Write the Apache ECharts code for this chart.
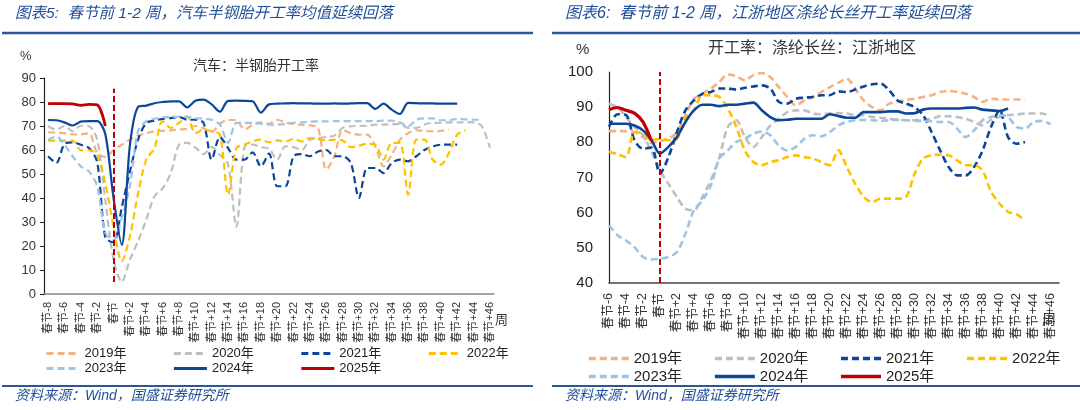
<!DOCTYPE html>
<html>
<head>
<meta charset="utf-8">
<script src="https://cdn.jsdelivr.net/npm/echarts@6/dist/echarts.min.js"></script>
<style>
  html, body { margin: 0; padding: 0; background: #fff; }
  #wrap { position: relative; width: 1080px; height: 410px; }
  .panel { position: absolute; top: 0; width: 540px; height: 410px; }
</style>
</head>
<body>
<div id="wrap">
  <div class="panel" id="left" style="left:0"></div>
  <div class="panel" id="right" style="left:540px"></div>
</div>
<script>
const FONT = '"Liberation Sans", "Noto Sans CJK SC", sans-serif';
const BLUE_TXT = '#1F4E99';

// week offsets relative to Spring Festival
const leftWeeks = [];
for (let w = -8; w <= 46; w++) leftWeeks.push(w);
const rightWeeks = [];
for (let w = -6; w <= 47; w++) rightWeeks.push(w);
const weekLabel = w => w === 0 ? '春节' : (w < 0 ? '春节' + w : '春节+' + w);

// 图表5: 汽车半钢胎开工率 (%), starting at 春节-8
const tyre2019 = [67.4, 67.2, 67, 66.5, 66.5, 67, 58.8, 57.1,
  60, 62.2, 64.3, 66, 67, 67.8, 68, 68.2, 68.5, 68.8,
  70, 69, 67.5, 71, 72.5, 72.5, 68.5, 70.5, 71.5, 71,
  72.6, 71.5, 70.8, 70.5, 70.3, 69.2, 51.8, 57.4, 68.5, 67,
  66.4, 66.4, 61.5, 53.2, 58, 64.3, 67, 68.2, 68, 67.8, 68, 68.5];
const tyre2020 = [69.9, 68.5, 70, 67.8, 70.1, 69.9, 64.3, 39,
  14.3, 5, 14.3, 22, 31, 40.7, 44, 50.4, 62.2, 63,
  61, 58.3, 61.2, 58, 54, 28, 61.2, 62.2, 61.2, 60.5,
  56, 61.5, 61.2, 60, 64.3, 65, 65.4, 66, 69.2, 69.9,
  70, 70, 70.6, 70.6, 70.8, 70.8, 69.2, 69.2, 70.6, 71.3, 71.3, 71.5, 71.5, 71.6, 71.5, 70, 61];
const tyre2021 = [57.4, 54.6, 62.5, 63.2, 62.2, 60.8, 55, 23.5,
  21.5, 36, 51, 64.3, 71.3, 72.2, 73, 73.3, 73.8, 72.6,
  72.6, 71.3, 56, 65.4, 60.8, 56, 56, 59, 53.2, 58.5,
  44.9, 44.9, 57.4, 58.3, 57.4, 59.4, 60, 57.4, 57.4, 54.6,
  40, 52.5, 52.5, 50.4, 54.6, 56, 55.3, 57.4, 60, 61.5, 62.2, 62.2, 62.2];
const tyre2022 = [63.9, 63.9, 63.9, 63.9, 59.9, 59.9, 58, 46,
  28, 13.6, 24, 42, 56, 60.8, 72, 69.2, 71.3, 74,
  67, 68.5, 67.8, 66.4, 41.4, 60.8, 62.2, 63.6, 64.3, 63.2,
  64, 63.6, 64.6, 63.6, 65, 64.6, 64, 64.3, 64, 61.2,
  61.8, 62.6, 62.2, 56, 63, 63, 41.4, 64.3, 64.3, 56, 53.9, 58.8, 66.4, 68.2];
const tyre2023 = [64.3, 65.7, 62.2, 57.4, 53.2, 51.1, 44.9, 25.4,
  22.6, 31.7, 45, 68, 72, 73, 73.6, 73.8, 73.8, 73.8,
  73.3, 73.1, 72.6, 70.6, 63, 71.3, 71.3, 71.3, 71, 70.6,
  70.6, 70.8, 71.3, 71.5, 71.8, 71.9, 71.9, 72, 72, 72,
  72, 72, 72, 72.2, 72.2, 71.5, 69.9, 72.6, 73.2, 73.2, 72.4, 72.4, 73, 72.8, 72.6, 72.6];
const tyre2024 = [72.5, 72.4, 71.5, 70.2, 71.8, 72, 72, 66.5,
  40, 20.5, 62, 78, 78.5, 79.5, 80, 80.3, 80.3, 77.8,
  80.5, 81, 79, 76, 80.5, 80.6, 80.5, 80.3, 75.6, 79,
  79.3, 79.4, 79.5, 79.4, 79.4, 79.3, 79.3, 79.4, 79.3, 79.4,
  79.5, 79.5, 77.1, 79.3, 76.8, 75, 79.6, 79.5, 79.4, 79.4, 79.3, 79.3, 79.3];
const tyre2025 = [79.3, 79.3, 79.3, 79.2, 78.6, 79.0, 78.8, 70];

// 图表6: 江浙地区涤纶长丝开工率 (%), starting at 春节-6
const yarn2019 = [83.2, 83.2, 83.2, 82.9, 81.5, 79.8,
  80.4, 81, 82.9, 87.7, 92.4, 93.8, 95.3, 97.2, 99.3, 98.8,
  97.6, 99.1, 99.7, 98.6, 95.7, 92.9, 90.5, 91.9, 92.9, 94.3,
  95.7, 96.9, 98.1, 95.3, 91.9, 90, 89.1, 91, 91.5, 92.1,
  92.4, 92.9, 93.4, 94.3, 94.6, 94.3, 93.8, 92.9, 91.5, 92.4, 92.2, 92.2, 92.2, 92.2];
const yarn2020 = [91, 90, 87.2, 84.4, 82, 77.3,
  72, 68.2, 64.5, 61.1, 60.7, 64.5, 69.2, 75.8, 84.4, 86.3,
  81.5, 78.7, 81.5, 84.8, 86.7, 88.6, 89.1, 89.1, 88.2, 88,
  88.2, 88.3, 88.2, 87.7, 87.7, 87.2, 87, 86.7, 86.4, 86.3,
  86.3, 86.4, 86.7, 87.4, 87.4, 87.2, 86.7, 85.8, 84.8, 86.4, 87.2, 87.7, 87.9, 88.2, 88.2, 88.2, 87.4];
const yarn2021 = [84.4, 88, 87.8, 80.6, 78.2, 78.5,
  71.1, 75.8, 82.9, 89.1, 91.9, 93.8, 94.3, 95.3, 95.3, 95,
  95.5, 95.9, 96.2, 95.3, 91.5, 91, 92.4, 92.7, 92.9, 93.4,
  93.4, 94.5, 94.3, 95, 95.9, 96.5, 96.7, 94.8, 91.9, 91,
  90, 87.7, 82.9, 77.7, 73, 70.6, 70.6, 73, 77.7, 84.4, 89.1, 81.5, 79.6, 80.1];
const yarn2022 = [77.3, 76.6, 75.8, 82.9, 82.5, 80.6,
  81, 80.6, 81, 86.7, 89.1, 93.4, 93.4, 92.9, 89.6, 84.4,
  77.7, 74.4, 73.5, 74.4, 74.9, 75.8, 76.3, 75.8, 75.4, 74.4,
  73.5, 77.7, 73, 68.2, 64.5, 63, 64, 64, 64, 64.5,
  71.1, 75.4, 76.3, 76.5, 76.3, 74.9, 73.5, 73.5, 72, 65.9, 62.6, 60.2, 59.5, 57.8];
const yarn2023 = [56.4, 53.6, 52.1, 50.2, 47.4, 46.7,
  46.9, 47.4, 48.8, 54, 60.7, 63.5, 67.8, 75.4, 77.7, 80.1,
  81, 82.5, 83.1, 82, 79.1, 77.7, 78.7, 81, 82, 81.7,
  82.9, 84.8, 85.8, 86.3, 86.4, 86.3, 86.1, 86.3, 86.4, 86.3,
  86.1, 86.1, 86, 85.8, 85.8, 83.9, 81.5, 83.4, 86.3, 87.2, 87.7, 87.2, 84.4, 83.9, 85.8, 86.1, 85.1];
const yarn2024 = [85.3, 85.3, 85.3, 84.8, 83.4, 80.6,
  76.8, 78.7, 81.5, 85.8, 89.1, 90.7, 90.7, 90.3, 90.7, 90.7,
  91, 91.3, 89.1, 87.2, 86.3, 86.4, 86.7, 86.7, 86.7, 86.7,
  88, 87.5, 87, 87, 88.6, 88.6, 88.6, 88.8, 88.8, 88.2,
  88.3, 89.3, 89.6, 89.6, 89.6, 89.6, 89.8, 89.9, 89.3, 89.1, 88.9, 89.6];
const yarn2025 = [89.3, 89.9, 89.1, 88.3, 85.8, 80.4];

const years = ['2019年', '2020年', '2021年', '2022年', '2023年', '2024年', '2025年'];
const colors = ['#F4B183', '#BFBFBF', '#0B469A', '#FFC000', '#9DC3E6', '#0B469A', '#C00000'];
const dashed = [true, true, true, true, true, false, false];

function makeSeries(dataList, lw, markFrom, markTo) {
  return dataList.map((d, i) => {
    const s = {
      name: years[i],
      type: 'line',
      data: d,
      symbol: 'none',
      smooth: 0.3,
      z: i === 6 ? 5 : (i === 5 ? 4 : 3),
      lineStyle: {
        color: colors[i],
        width: i === 6 ? lw + 0.6 : lw,
        type: dashed[i] ? [7, 4] : 'solid'
      },
      itemStyle: { color: colors[i] }
    };
    if (i === 6) {
      s.markLine = {
        silent: true,
        symbol: 'none',
        label: { show: false },
        lineStyle: { color: '#C00000', width: 2, type: [6, 3] },
        data: [[{ coord: ['春节', markFrom] }, { coord: ['春节', markTo] }]]
      };
    }
    return s;
  });
}

function legends(left, tops, iw, gap, fs, lw) {
  const base = {
    left: left, itemWidth: iw, itemHeight: 12, itemGap: gap,
    itemStyle: { opacity: 0 },
    lineStyle: { width: lw },
    textStyle: { fontSize: fs, color: '#222', fontFamily: FONT }
  };
  return [
    Object.assign({}, base, { top: tops[0], data: years.slice(0, 4) }),
    Object.assign({}, base, { top: tops[1], data: years.slice(4) })
  ];
}

function frame(title, src, ruleX0, ruleX1, titleX, fs) {
  return [
    { type: 'text', left: titleX, top: 6, style: { text: title, fill: BLUE_TXT, font: 'italic ' + fs + 'px ' + FONT } },
    { type: 'line', shape: { x1: ruleX0, y1: 33, x2: ruleX1, y2: 33 }, style: { stroke: '#2E5597', lineWidth: 2.5 } },
    { type: 'line', shape: { x1: ruleX0, y1: 386, x2: ruleX1, y2: 386 }, style: { stroke: '#2E5597', lineWidth: 2 } },
    { type: 'text', left: titleX, top: 389, style: { text: src, fill: BLUE_TXT, font: 'italic 14px ' + FONT } }
  ];
}

// left panel
const leftChart = echarts.init(document.getElementById('left'), null, { renderer: 'canvas' });
leftChart.setOption({
  animation: false,
  textStyle: { fontFamily: FONT },
  grid: { left: 44, right: 46, top: 78, bottom: 116 },
  legend: legends(40, [342, 357], 33, 46, 13, 3),
  graphic: frame('图表5:  春节前 1-2 周，汽车半钢胎开工率均值延续回落', '资料来源：Wind，国盛证券研究所', 2, 533, 15, 15.5).concat([
    { type: 'text', left: 20, top: 50, style: { text: '%', fill: '#333', font: '13px ' + FONT } },
    { type: 'text', left: 193, top: 59, style: { text: '汽车：半钢胎开工率', fill: '#333', font: '14px ' + FONT } },
    { type: 'text', left: 495, top: 314, style: { text: '周', fill: '#333', font: '13px ' + FONT } }
  ]),
  xAxis: {
    type: 'category',
    data: leftWeeks.map(weekLabel),
    boundaryGap: true,
    axisLine: { lineStyle: { color: '#888', width: 1.5 } },
    axisTick: { show: false },
    axisLabel: { interval: 1, rotate: 90, fontSize: 11, color: '#333', margin: 8 }
  },
  yAxis: {
    type: 'value', min: 0, max: 90, interval: 10,
    splitLine: { show: false },
    axisLine: { show: true, lineStyle: { color: '#222', width: 1.2 } },
    axisTick: { show: true, length: 4, lineStyle: { color: '#222' } },
    axisLabel: { fontSize: 13, color: '#333', margin: 8 }
  },
  series: makeSeries([tyre2019, tyre2020, tyre2021, tyre2022, tyre2023, tyre2024, tyre2025], 2.2, 5, 85.5)
});

// right panel
const rightChart = echarts.init(document.getElementById('right'), null, { renderer: 'canvas' });
rightChart.setOption({
  animation: false,
  textStyle: { fontFamily: FONT },
  grid: { left: 69, right: 21, top: 72, bottom: 127 },
  legend: legends(42, [346, 364], 40, 31, 15, 3.5),
  graphic: frame('图表6:  春节前 1-2 周，江浙地区涤纶长丝开工率延续回落', '资料来源：Wind，国盛证券研究所', 12, 540, 25, 16).concat([
    { type: 'text', left: 36, top: 42, style: { text: '%', fill: '#333', font: '15px ' + FONT } },
    { type: 'text', left: 168, top: 41, style: { text: '开工率：涤纶长丝：江浙地区', fill: '#333', font: '16px ' + FONT } },
    { type: 'text', left: 502, top: 313, style: { text: '周', fill: '#333', font: '14px ' + FONT } }
  ]),
  xAxis: {
    type: 'category',
    data: rightWeeks.map(weekLabel),
    boundaryGap: false,
    axisLine: { lineStyle: { color: '#444', width: 1.5 } },
    axisTick: { show: false },
    axisLabel: { interval: 1, rotate: 90, fontSize: 12.5, color: '#333', margin: 10 }
  },
  yAxis: {
    type: 'value', min: 40, max: 100, interval: 10,
    splitLine: { show: false },
    axisLine: { show: true, lineStyle: { color: '#222', width: 1.2 } },
    axisTick: { show: false },
    axisLabel: { fontSize: 15, color: '#222', margin: 16 }
  },
  series: makeSeries([yarn2019, yarn2020, yarn2021, yarn2022, yarn2023, yarn2024, yarn2025], 2.6, 40, 100)
});
</script>
</body>
</html>
